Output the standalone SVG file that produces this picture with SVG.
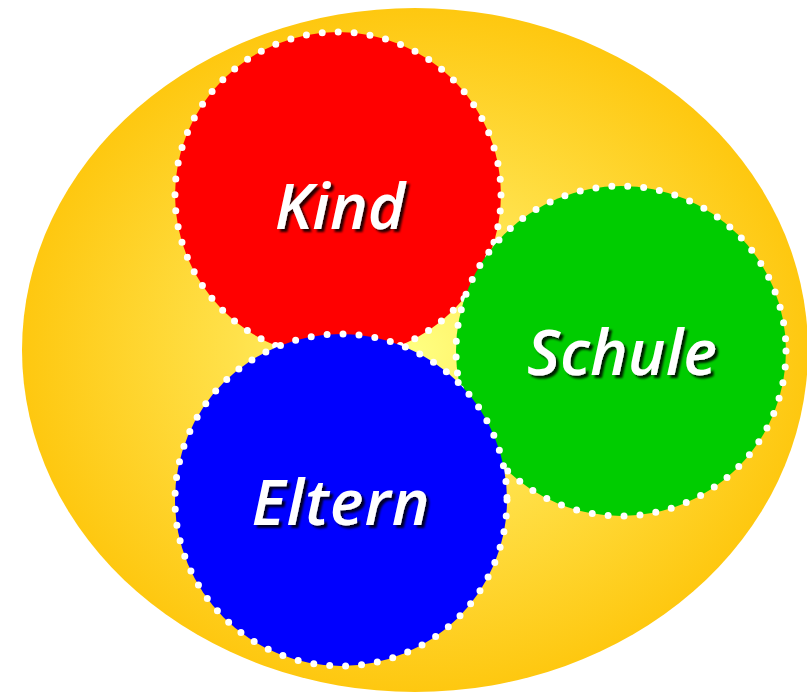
<svg xmlns="http://www.w3.org/2000/svg" width="807" height="695" viewBox="0 0 807 695">
<defs>
<radialGradient id="bg" cx="415" cy="350" r="400" gradientUnits="userSpaceOnUse" gradientTransform="translate(415 350) scale(1 0.87) translate(-415 -350)">
<stop offset="0" stop-color="#FFFF80"/>
<stop offset="0.45" stop-color="#FFE14A"/>
<stop offset="1" stop-color="#FEC70E"/>
</radialGradient>
<filter id="sh" x="-20%" y="-20%" width="140%" height="140%">
<feGaussianBlur in="SourceAlpha" stdDeviation="1.2"/>
<feOffset dx="3" dy="3" result="b"/>
<feFlood flood-color="#000" flood-opacity="0.85"/>
<feComposite in2="b" operator="in"/>
<feMerge><feMergeNode/><feMergeNode in="SourceGraphic"/></feMerge>
</filter>
</defs>
<style>
.c{stroke:#fff;stroke-width:7;stroke-dasharray:0 16;stroke-linecap:round}
.t{font-family:"Open Sans","DejaVu Sans",sans-serif;font-weight:600;font-style:italic;font-size:64px;fill:#fff;text-anchor:middle;filter:url(#sh)}
</style>
<ellipse cx="415" cy="350" rx="393" ry="342" fill="url(#bg)"/>
<g id="kind">
<circle cx="338" cy="195" r="163" fill="#FF0000" class="c"/>
<text x="340" y="229" class="t">Kind</text>
</g>
<g id="schule">
<circle cx="621" cy="351" r="165" fill="#00CC00" class="c"/>
<text x="622" y="375" class="t">Schule</text>
</g>
<g id="eltern">
<circle cx="341" cy="500" r="166" fill="#0000FF" class="c"/>
<text x="341" y="525" class="t" letter-spacing="1">Eltern</text>
</g>
<g id="connectors"/>
</svg>
